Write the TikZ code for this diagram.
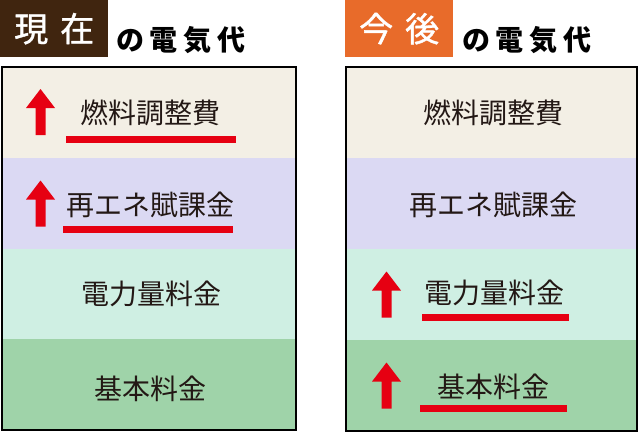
\documentclass[tikz,border=0pt]{standalone}
\usepackage{fontspec}
\newfontfamily\cjk{Noto Sans CJK JP}
\newfontfamily\cjkmed[FakeBold=1.2]{Noto Sans CJK JP}
\definecolor{brownc}{HTML}{40250F}
\definecolor{orangec}{HTML}{E86B2A}
\definecolor{rowa}{HTML}{F3EFE5}
\definecolor{rowb}{HTML}{DBD9F3}
\definecolor{rowc}{HTML}{CFEFE3}
\definecolor{rowd}{HTML}{9FD3A9}
\definecolor{redc}{HTML}{E60012}
\definecolor{txtc}{HTML}{231815}
\begin{document}
\begin{tikzpicture}[x=1pt,y=-1pt,
  rowbox/.style={anchor=north west, inner sep=0pt, outer sep=0pt, minimum width=294pt, minimum height=91pt,
    font=\cjk\fontsize{28}{28}\selectfont, text=txtc},
  label/.style={rowbox, anchor=center, minimum width=0pt, minimum height=0pt},
  ttlbox/.style={anchor=north west, inner sep=0pt, minimum width=108pt, minimum height=57pt,
    font=\cjkmed\fontsize{34}{34}\selectfont, text=white},
  sub/.style={inner sep=0pt, font=\cjk\bfseries\fontsize{28}{28}\selectfont, text=black},
  frame/.style={draw=black, line width=2pt},
  uline/.style={draw=redc, line width=7pt},
  uparrow/.pic={\fill[redc] (-14.5,-4) -- (0,-23) -- (14.5,-4) -- (5,-4) -- (5,23) -- (-5,23) -- (-5,-4) -- cycle;}
]
\useasboundingbox (0,0) rectangle (640,432);
% titles
\node[ttlbox, fill=brownc] (T1) at (0,0) {現\hspace{12pt}在};
\node[sub] (S1) at (181,40) {の\hspace{6pt}電\hspace{6pt}気\hspace{6pt}代};
\node[ttlbox, fill=orangec] (T2) at (345,0) {今\hspace{12pt}後};
\node[sub] (S2) at (527,40) {の\hspace{6pt}電\hspace{6pt}気\hspace{6pt}代};
% left panel
\node[rowbox, fill=rowa] (L1) at (2,67) {};
\node[rowbox, fill=rowb] (L2) at (2,158) {};
\node[rowbox, fill=rowc] (L3) at (2,249) {};
\node[rowbox, fill=rowd] (L4) at (2,339) {};
\draw[frame] (L1.north west) rectangle (L4.south east);
\node[label] (L1t) at (150,113) {燃料調整費};
\node[label] (L2t) at (150,205) {再エネ賦課金};
\node[label] (L3t) at (151,294) {電力量料金};
\node[label] (L4t) at (150,389) {基本料金};
\pic at (40.5,112) {uparrow};
\pic at (40.5,203.5) {uparrow};
\coordinate (u1a) at (66,139); \coordinate (u1b) at (236,139);
\draw[uline] (u1a) -- (u1b);
\coordinate (u2a) at (63,229.5); \coordinate (u2b) at (233,229.5);
\draw[uline] (u2a) -- (u2b);
% right panel
\node[rowbox, fill=rowa, minimum width=291pt] (R1) at (346,67) {};
\node[rowbox, fill=rowb, minimum width=291pt] (R2) at (346,158) {};
\node[rowbox, fill=rowc, minimum width=291pt] (R3) at (346,249) {};
\node[rowbox, fill=rowd, minimum width=291pt] (R4) at (346,340) {};
\draw[frame] (R1.north west) rectangle (R4.south east);
\node[label] (R1t) at (493,113) {燃料調整費};
\node[label] (R2t) at (493,205) {再エネ賦課金};
\node[label] (R3t) at (494,293) {電力量料金};
\node[label] (R4t) at (493,387) {基本料金};
\pic at (386.5,294.5) {uparrow};
\pic at (386.5,385.5) {uparrow};
\coordinate (u3a) at (422,317.5); \coordinate (u3b) at (569,317.5);
\draw[uline] (u3a) -- (u3b);
\coordinate (u4a) at (420,408.5); \coordinate (u4b) at (567,408.5);
\draw[uline] (u4a) -- (u4b);
\end{tikzpicture}
\end{document}
